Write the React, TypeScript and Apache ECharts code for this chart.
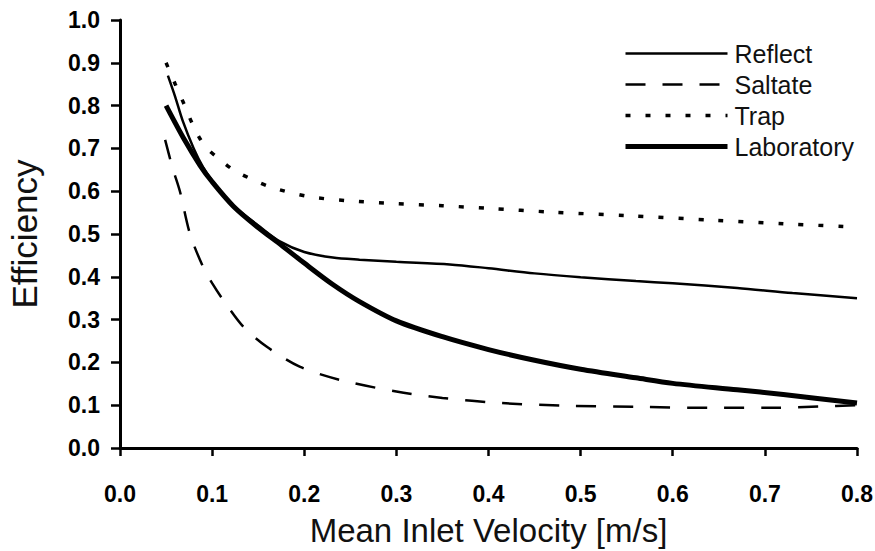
import React, { useEffect, useRef } from "react";
import * as echarts from "echarts";

const seriesNames = ["Reflect", "Saltate", "Trap", "Laboratory"];

const reflect: [number, number][] = [
  [0.052, 0.87], [0.06, 0.82], [0.068, 0.765], [0.08, 0.7], [0.09, 0.657],
  [0.1, 0.625], [0.123, 0.566], [0.15, 0.52], [0.174, 0.482], [0.2, 0.458],
  [0.231, 0.445], [0.26, 0.44], [0.3, 0.435], [0.358, 0.429], [0.4, 0.42],
  [0.45, 0.408], [0.5, 0.399], [0.56, 0.39], [0.6, 0.385], [0.67, 0.374],
  [0.73, 0.362], [0.8, 0.35],
];

const saltate: [number, number][] = [
  [0.049, 0.72], [0.057, 0.655], [0.065, 0.6], [0.076, 0.5], [0.09, 0.424],
  [0.1, 0.385], [0.112, 0.346], [0.134, 0.283], [0.159, 0.237], [0.195, 0.19],
  [0.239, 0.159], [0.3, 0.132], [0.35, 0.117], [0.414, 0.105], [0.48, 0.099],
  [0.56, 0.096], [0.64, 0.094], [0.706, 0.094], [0.76, 0.097], [0.8, 0.1],
];

const trap: [number, number][] = [
  [0.05, 0.9], [0.06, 0.85], [0.069, 0.806], [0.078, 0.76], [0.087, 0.722],
  [0.096, 0.697], [0.105, 0.68], [0.123, 0.65], [0.141, 0.63], [0.163, 0.61],
  [0.203, 0.588], [0.246, 0.578], [0.3, 0.571], [0.35, 0.566], [0.4, 0.56],
  [0.47, 0.551], [0.55, 0.543], [0.647, 0.532], [0.72, 0.524], [0.79, 0.517],
];

const laboratory: [number, number][] = [
  [0.05, 0.8], [0.07, 0.72], [0.087, 0.66], [0.1, 0.622], [0.123, 0.565],
  [0.15, 0.515], [0.175, 0.474], [0.2, 0.432], [0.231, 0.382], [0.26, 0.342],
  [0.3, 0.297], [0.35, 0.26], [0.4, 0.23], [0.45, 0.205], [0.5, 0.184],
  [0.56, 0.164], [0.6, 0.151], [0.67, 0.136], [0.72, 0.125], [0.8, 0.105],
];

const xTicks = [0, 0.1, 0.2, 0.3, 0.4, 0.5, 0.6, 0.7, 0.8];
const yTicks = [0, 0.1, 0.2, 0.3, 0.4, 0.5, 0.6, 0.7, 0.8, 0.9, 1.0];

const FONT = "'Liberation Sans', Arial, sans-serif";

export default function App() {
  const ref = useRef<HTMLDivElement>(null);
  useEffect(() => {
    if (!ref.current) return;
    const chart = echarts.init(ref.current, undefined, { renderer: "svg" });
    const lineBase = { type: "line", showSymbol: false, symbol: "none", smooth: 0.3, color: "#000" };
    const styles: Record<string, any> = {
      Reflect: { color: "#000", width: 2.5, type: "solid" },
      Saltate: { color: "#000", width: 2.5, type: [20, 17] },
      Trap: { color: "#000", width: 3.5, type: [5, 15] },
      Laboratory: { color: "#000", width: 5, type: "solid" },
    };
    const dataMap: Record<string, [number, number][]> = {
      Reflect: reflect,
      Saltate: saltate,
      Trap: trap,
      Laboratory: laboratory,
    };
    chart.setOption({
      animation: false,
      backgroundColor: "#fff",
      grid: { left: 120, right: 18, top: 20, bottom: 103, outerBoundsMode: "none", containLabel: false },
      legend: {
        orient: "vertical",
        left: 623,
        top: 41,
        padding: 0,
        itemWidth: 102,
        itemHeight: 14,
        itemGap: 6,
        itemStyle: { opacity: 0 },
        data: seriesNames.map((n) => ({ name: n, lineStyle: styles[n], itemStyle: { opacity: 0 } })),
        textStyle: { fontFamily: FONT, fontSize: 25, color: "#111", padding: [0, 0, 0, 2] },
      },
      xAxis: {
        type: "value",
        min: xTicks[0],
        max: xTicks[xTicks.length - 1],
        interval: 0.1,
        name: "Mean Inlet Velocity [m/s]",
        nameLocation: "middle",
        nameGap: 66,
        nameTextStyle: { fontFamily: FONT, fontSize: 33, color: "#111" },
        axisLine: { show: true, onZero: false, lineStyle: { color: "#000", width: 3 } },
        axisTick: { show: true, length: 8, inside: false, lineStyle: { color: "#000", width: 2.5 } },
        axisLabel: {
          margin: 34,
          fontFamily: FONT,
          fontSize: 23,
          fontWeight: "bold",
          color: "#000",
          formatter: (v: number) => v.toFixed(1),
        },
        splitLine: { show: false },
      },
      yAxis: {
        type: "value",
        min: yTicks[0],
        max: yTicks[yTicks.length - 1],
        interval: 0.1,
        name: "Efficiency",
        nameLocation: "middle",
        nameGap: 78,
        nameRotate: 90,
        nameTextStyle: { fontFamily: FONT, fontSize: 35, color: "#111" },
        axisLine: { show: true, onZero: false, lineStyle: { color: "#000", width: 3 } },
        axisTick: { show: true, length: 9, inside: false, lineStyle: { color: "#000", width: 2.5 } },
        axisLabel: {
          margin: 20,
          fontFamily: FONT,
          fontSize: 23,
          fontWeight: "bold",
          color: "#000",
          formatter: (v: number) => v.toFixed(1),
        },
        splitLine: { show: false },
      },
      series: seriesNames.map((n) => ({ ...lineBase, name: n, data: dataMap[n], lineStyle: styles[n] })),
    });
    return () => chart.dispose();
  }, []);
  return (
    <div
      ref={ref}
      style={{ position: "fixed", left: 0, top: 0, width: 875, height: 551, background: "#fff" }}
    />
  );
}
